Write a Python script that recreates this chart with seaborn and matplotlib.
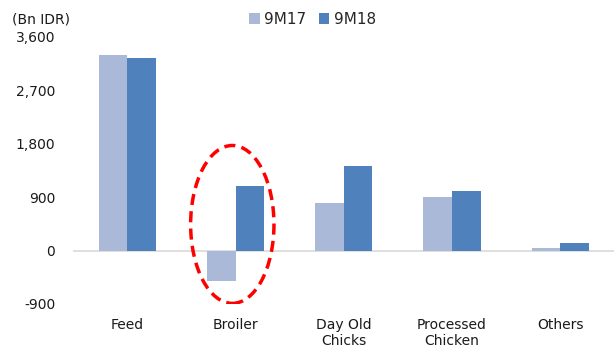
import matplotlib
matplotlib.use("Agg")
import matplotlib.pyplot as plt
from matplotlib.patches import Ellipse
import seaborn as sns
import pandas as pd

categories = ["Feed", "Broiler", "Day Old\nChicks", "Processed\nChicken", "Others"]
series_names = ["9M17", "9M18"]
values_9m17 = [3290, -505, 800, 895, 45]
values_9m18 = [3240, 1080, 1425, 1000, 130]
y_ticks = [-900, 0, 900, 1800, 2700, 3600]

df = pd.DataFrame({
    "category": categories * 2,
    "series": [series_names[0]] * len(categories) + [series_names[1]] * len(categories),
    "value": values_9m17 + values_9m18,
})

sns.set_theme(style="white")
plt.rcParams['font.family'] = ['DejaVu Sans']

fig = plt.figure(figsize=(6.15, 3.51), dpi=100)
ax = fig.add_axes([0.119, 0.134, 0.88, 0.761])

palette = {"9M17": "#AAB9D8", "9M18": "#4F81BD"}
sns.barplot(data=df, x="category", y="value", hue="series", order=categories,
            hue_order=series_names, palette=palette, width=0.53, gap=0,
            edgecolor="none", linewidth=0, saturation=1, ax=ax, legend=True)

ax.set_ylim(-900, 3600)
ax.set_xlim(-0.5, len(categories) - 0.5)
ax.set_yticks(y_ticks)
ax.set_yticklabels([f"{v:,}" for v in y_ticks], fontsize=10, color="#1a1a1a")
ax.tick_params(axis="x", labelsize=10, colors="#1a1a1a", length=0, pad=10)
ax.tick_params(axis="y", length=0, pad=13)
ax.set_xlabel("")
ax.set_ylabel("")
for s in ax.spines.values():
    s.set_visible(False)
ax.axhline(0, color="#D9D9D9", linewidth=1.2, zorder=0)

ell = Ellipse((0.97, 440), width=0.77, height=2660, fill=False,
              edgecolor="#FF0000", linestyle=(0, (3.2, 1.8)), linewidth=2.5, zorder=5)
ax.add_patch(ell)

handles, labels = ax.get_legend_handles_labels()
ax.legend_.remove()
fig.legend(handles, labels, loc="center", bbox_to_anchor=(0.508, 0.945), ncol=2,
           frameon=False, fontsize=11, handlelength=0.7, handleheight=0.7,
           handletextpad=0.3, columnspacing=0.8)

fig.text(0.02, 0.945, "(Bn IDR)", fontsize=10, color="#1a1a1a", va="center")

fig.savefig("out.png", dpi=100)
